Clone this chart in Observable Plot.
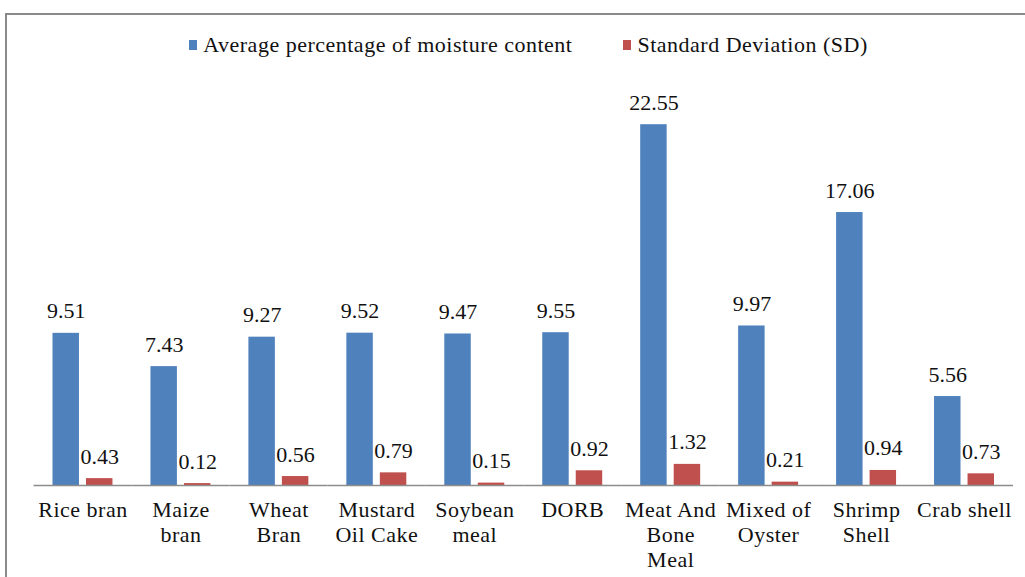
<!DOCTYPE html>
<html>
<head>
<meta charset="utf-8">
<script src="https://cdn.jsdelivr.net/npm/d3@7"></script>
<script src="https://cdn.jsdelivr.net/npm/@observablehq/plot@0.6"></script>
<style>
  html, body { margin: 0; padding: 0; background: #fff; overflow: hidden; }
  #wrap { position: relative; width: 1025px; height: 577px; overflow: hidden; font-family: "Liberation Serif", "Times New Roman", serif; }
  #frame { position: absolute; left: 5px; top: 13px; width: 1040px; height: 600px; border: 2px solid #8a8a8a; box-sizing: border-box; pointer-events: none; }
  #legend { position: absolute; top: 32px; left: 16px; width: 1025px; display: flex; justify-content: center; gap: 51px; font-size: 22px; letter-spacing: 0.5px; color: #111; line-height: 26px; }
  #legend span.item { display: inline-flex; align-items: center; }
  #legend span.sw { display: inline-block; width: 8px; height: 10px; margin-right: 6px; }
  #chart { position: absolute; left: 0; top: 0; }
  #chart svg, #chart svg text { font-family: "Liberation Serif", "Times New Roman", serif !important; }
  #chart svg g[aria-label="fx-axis tick label"] text { letter-spacing: 0.5px; }
</style>
</head>
<body>
<div id="wrap">
  <div id="chart"></div>
  <div id="legend"></div>
  <div id="frame"></div>
</div>
<script>
const categories = ["Rice bran","Maize bran","Wheat Bran","Mustard Oil Cake","Soybean meal","DORB","Meat And Bone Meal","Mixed of Oyster","Shrimp Shell","Crab shell"];
const tickLabels = ["Rice bran","Maize\nbran","Wheat\nBran","Mustard\nOil Cake","Soybean\nmeal","DORB","Meat And\nBone\nMeal","Mixed of\nOyster","Shrimp\nShell","Crab shell"];
const averageMoisture = [9.51,7.43,9.27,9.52,9.47,9.55,22.55,9.97,17.06,5.56];
const standardDeviation = [0.43,0.12,0.56,0.79,0.15,0.92,1.32,0.21,0.94,0.73];
const seriesNames = ["Average percentage of moisture content","Standard Deviation (SD)"];
const seriesColors = ["#4F81BD","#C0504D"];

const data = [];
categories.forEach((c, i) => {
  data.push({category: c, series: seriesNames[0], value: averageMoisture[i]});
  data.push({category: c, series: seriesNames[1], value: standardDeviation[i]});
});
const labelMap = new Map(categories.map((c, i) => [c, tickLabels[i]]));

const plot = Plot.plot({
  width: 1025,
  height: 577,
  marginLeft: 33.5,
  marginRight: 12,
  marginTop: 85,
  marginBottom: 92,
  style: {fontFamily: "Liberation Serif, Times New Roman, serif", fontSize: "22px", color: "#111", background: "transparent"},
  fx: {domain: categories, paddingInner: 0, paddingOuter: 0, round: false, label: null},
  x: {domain: seriesNames, axis: null, paddingInner: 0.21, paddingOuter: 0.567, round: false},
  y: {domain: [0, 25], axis: null},
  color: {domain: seriesNames, range: seriesColors},
  marks: [
    Plot.barY(data, {fx: "category", x: "series", y: "value", fill: "series"}),
    Plot.ruleY([0], {stroke: "#8c8c8c", strokeWidth: 1.5}),
    Plot.text(data, {fx: "category", x: "series", y: "value", text: d => d.value.toFixed(2), lineAnchor: "bottom", dy: -15, fontSize: 22, fill: "#111"}),
    Plot.axisFx({anchor: "bottom", tickSize: 0, tickPadding: 14, label: null, tickFormat: d => labelMap.get(d), lineHeight: 1.13, fontSize: 22, fill: "#111"})
  ]
});
document.getElementById("chart").appendChild(plot);

const legend = document.getElementById("legend");
seriesNames.forEach((name, i) => {
  const item = document.createElement("span");
  item.className = "item";
  const sw = document.createElement("span");
  sw.className = "sw";
  sw.style.background = seriesColors[i];
  item.appendChild(sw);
  item.appendChild(document.createTextNode(name));
  legend.appendChild(item);
});
</script>
</body>
</html>
